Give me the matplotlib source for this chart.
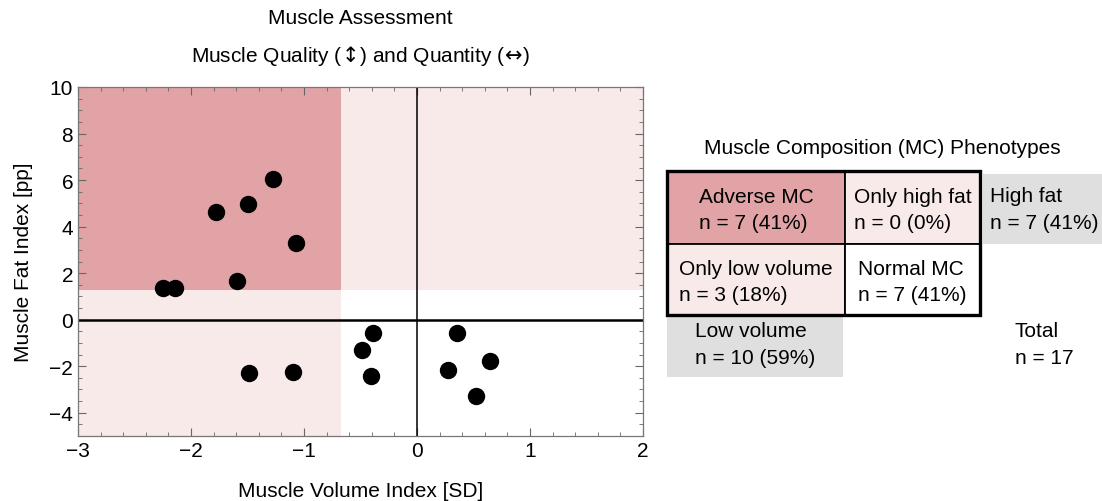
import matplotlib.pyplot as plt
from matplotlib.patches import Rectangle
from matplotlib.ticker import MultipleLocator

plt.rcParams['font.family'] = ['Liberation Sans', 'DejaVu Sans']

# data
volume = [-2.25, -2.14, -1.78, -1.50, -1.27, -1.59, -1.07,
          -1.485, -1.10,
          -0.39, -0.49, -0.41, 0.35, 0.275, 0.65, 0.52]
fat = [1.38, 1.38, 4.62, 4.95, 6.06, 1.68, 3.29,
       -2.30, -2.25,
       -0.59, -1.31, -2.40, -0.59, -2.15, -1.76, -3.26]
volume_cut = -0.67
fat_cut = 1.28

phenotypes = ['Adverse MC', 'Only high fat', 'Only low volume', 'Normal MC']
counts = [7, 0, 3, 7]
margin_labels = ['High fat', 'Low volume']
margin_counts = [7, 10]
total = 17

dark_pink = '#e2a3a6'
light_pink = '#f9eaea'
grey = '#dfdfdf'
FS = 15
LS = 1.5

fig = plt.figure(figsize=(11.02, 5.02), dpi=100)
W, H = 1102, 502
ax = fig.add_axes([78 / W, 65 / H, 565 / W, 349 / H])

ax.set_xlim(-3, 2)
ax.set_ylim(-5, 10)

# phenotype shading
ax.axvspan(-3, volume_cut, color=light_pink, lw=0, zorder=0)
ax.axhspan(fat_cut, 10, color=light_pink, lw=0, zorder=0)
ax.add_patch(Rectangle((-3, fat_cut), volume_cut + 3, 10 - fat_cut,
                       color=dark_pink, lw=0, zorder=1))

ax.axhline(0, color='black', lw=1.8, zorder=2)
ax.axvline(0, color='black', lw=1.1, zorder=2)

ax.plot(volume, fat, 'o', color='black', ms=11.5, zorder=3)

ax.xaxis.set_major_locator(MultipleLocator(1))
ax.xaxis.set_minor_locator(MultipleLocator(0.2))
ax.yaxis.set_major_locator(MultipleLocator(2))
ax.yaxis.set_minor_locator(MultipleLocator(0.5))
ax.tick_params(which='both', direction='in', top=True, right=True,
               color='#666666', labelsize=FS)
ax.tick_params(which='major', length=6, width=0.8)
ax.tick_params(which='minor', length=3, width=0.6)
for s in ax.spines.values():
    s.set_color('#777777')
    s.set_linewidth(0.9)

ax.set_xlabel('Muscle Volume Index [SD]', fontsize=FS, labelpad=15)
ax.set_ylabel('Muscle Fat Index [pp]', fontsize=FS, labelpad=12)
fig.text(360 / W, 1 - 19 / H, 'Muscle Assessment', ha='center', va='center', fontsize=FS)
fig.text(360 / W, 1 - 56 / H,
         r'Muscle Quality ($\!\updownarrow\!$) and Quantity ($\!\leftrightarrow\!$)',
         ha='center', va='center', fontsize=FS)

# phenotype table, laid out in pixel coordinates
tb = fig.add_axes([0, 0, 1, 1], facecolor='none')
tb.set_xlim(0, W)
tb.set_ylim(H, 0)
tb.axis('off')

tb.text(882, 149, 'Muscle Composition (MC) Phenotypes', ha='center', va='center', fontsize=FS)

x0, x1, x2 = 667, 845, 980
y0, y1, y2 = 172, 245, 316
cells = [(x0, y0, x1, y1, dark_pink), (x1, y0, x2, y1, light_pink),
         (x0, y1, x1, y2, light_pink), (x1, y1, x2, y2, 'white')]


def pct(n):
    return f'n = {n} ({round(100 * n / total)}%)'


for (a, b, c, d, col), name, n in zip(cells, phenotypes, counts):
    tb.add_patch(Rectangle((a, b), c - a, d - b, facecolor=col,
                           edgecolor='black', lw=1.3, zorder=1))
    tb.text((a + c) / 2, (b + d) / 2 + 2, name + '\n' + pct(n), ha='center', va='center',
            multialignment='left', fontsize=FS, linespacing=LS, zorder=3)
tb.add_patch(Rectangle((x0, y0), x2 - x0, y2 - y0, fill=False,
                       edgecolor='black', lw=2.4, zorder=2))

# margins
tb.add_patch(Rectangle((983, 175), 130, 70, facecolor=grey, lw=0, zorder=0))
tb.text(1044, 210, margin_labels[0] + '\n' + pct(margin_counts[0]), ha='center', va='center',
        multialignment='left', fontsize=FS, linespacing=LS)
tb.add_patch(Rectangle((667, 317), 176, 61, facecolor=grey, lw=0, zorder=0))
tb.text(755, 345, margin_labels[1] + '\n' + pct(margin_counts[1]), ha='center', va='center',
        multialignment='left', fontsize=FS, linespacing=LS)
tb.text(1044, 345, 'Total\n' + f'n = {total}', ha='center', va='center',
        multialignment='left', fontsize=FS, linespacing=LS)

fig.savefig('out.png', dpi=100)
